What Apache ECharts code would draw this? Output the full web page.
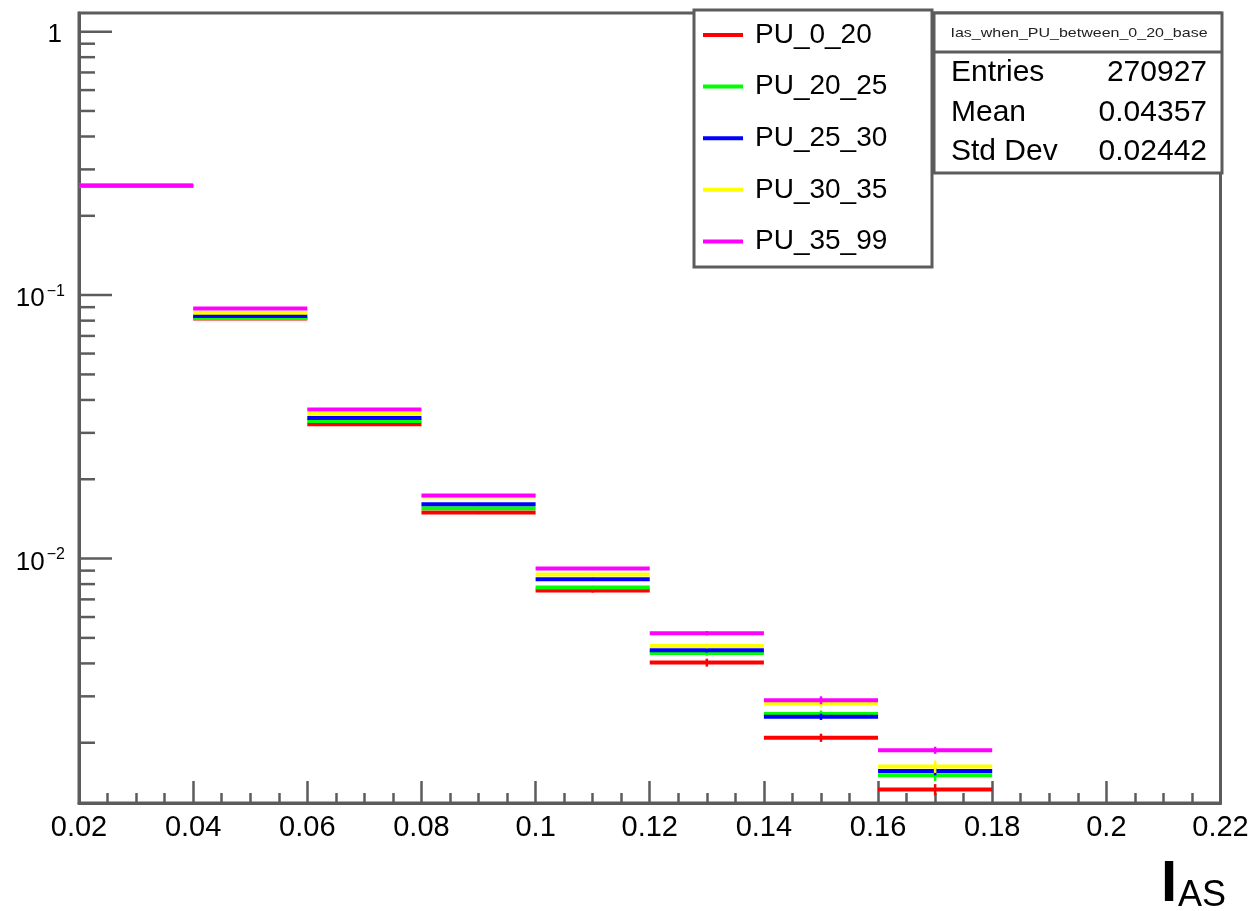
<!DOCTYPE html>
<html>
<head>
<meta charset="utf-8">
<script src="https://cdn.jsdelivr.net/npm/echarts@6/dist/echarts.min.js"></script>
<style>
html,body{margin:0;padding:0;background:#fff;}
#chart{width:1253px;height:911px;}
</style>
</head>
<body>
<div id="chart"></div>
<script>
// ---- data ----
const binLow = [0.02, 0.04, 0.06, 0.08, 0.10, 0.12, 0.14, 0.16];
const binWidth = 0.02;
const seriesNames = ['PU_0_20', 'PU_20_25', 'PU_25_30', 'PU_30_35', 'PU_35_99'];
const seriesColors = ['#ff0000', '#00ff00', '#0000ff', '#ffff00', '#ff00ff'];
const pu0to20  = [0.2603, 0.0815, 0.03233, 0.01495, 0.00756, 0.00403, 0.00209, 0.001328];
const pu20to25 = [0.2603, 0.0818, 0.0333,  0.01552, 0.00776, 0.00438, 0.00257, 0.001505];
const pu25to30 = [0.2603, 0.0833, 0.03417, 0.01607, 0.00834, 0.00449, 0.00251, 0.001563];
const pu30to35 = [0.2603, 0.0858, 0.0354,  0.0172,  0.00870, 0.00466, 0.00282, 0.001624];
const pu35to99 = [0.2603, 0.0889, 0.03677, 0.01734, 0.00916, 0.00521, 0.00290, 0.001873];
const err0to20  = [0.0007, 0.0004, 0.0003, 0.00020, 0.00013, 0.00014, 0.000075, 0.000065];
const err20to25 = [0.0007, 0.0004, 0.0003, 0.00020, 0.00012, 0.00010, 0.000080, 0.000075];
const err25to30 = [0.0007, 0.0004, 0.0003, 0.00020, 0.00012, 0.00009, 0.000070, 0.000060];
const err30to35 = [0.0007, 0.0004, 0.0003, 0.00020, 0.00012, 0.00010, 0.000080, 0.000088];
const err35to99 = [0.0007, 0.0004, 0.0003, 0.00020, 0.00012, 0.00010, 0.000100, 0.000058];
const xTickMin = 0.02, xTickMax = 0.22, xTickStep = 0.02;
const yMin = 0.001181, yMax = 1.177;
const statsTitle = 'Ias_when_PU_between_0_20_base';
const statsLabels = ['Entries', 'Mean', 'Std Dev'];
const statsValues = ['270927', '0.04357', '0.02442'];

const allValues = [pu0to20, pu20to25, pu25to30, pu30to35, pu35to99];
const allErrors = [err0to20, err20to25, err25to30, err30to35, err35to99];

const FONT = '"Liberation Sans", Arial, Helvetica, sans-serif';
const FRAME = '#5c5c5c';

// y-axis tick values (decades + minor 2..9)
const yMajorTicks = [];
const yMinorTicks = [];
for (let e = -3; e <= 0; e++) {
  const base = Math.pow(10, e);
  if (base >= yMin && base <= yMax) yMajorTicks.push(base);
  for (let m = 2; m <= 9; m++) {
    const v = m * base;
    if (v >= yMin && v <= yMax) yMinorTicks.push(v);
  }
}

function renderHist(params, api) {
  const xlo = api.value(0), xhi = api.value(1), v = api.value(2), e = api.value(3);
  const a = api.coord([xlo, v]);
  const b = api.coord([xhi, v]);
  const xc = (xlo + xhi) / 2;
  const c1 = api.coord([xc, v - e]);
  const c2 = api.coord([xc, v + e]);
  const color = api.visual('color');
  return {
    type: 'group',
    children: [
      { type: 'line', shape: { x1: a[0], y1: a[1], x2: b[0], y2: b[1] }, style: { stroke: color, lineWidth: 4 } },
      { type: 'line', shape: { x1: c1[0], y1: c1[1], x2: c2[0], y2: c2[1] }, style: { stroke: color, lineWidth: 2.5 } }
    ]
  };
}

function renderYTick(len) {
  return function (params, api) {
    const p = api.coord([xTickMin, api.value(0)]);
    return { type: 'line', shape: { x1: p[0], y1: p[1], x2: p[0] + len, y2: p[1] }, style: { stroke: FRAME, lineWidth: 2.5 } };
  };
}

const series = seriesNames.map(function (name, i) {
  return {
    name: name,
    type: 'custom',
    renderItem: renderHist,
    color: seriesColors[i],
    itemStyle: { color: seriesColors[i] },
    encode: { x: [0, 1], y: [2] },
    data: binLow.map(function (lo, k) { return [lo, lo + binWidth, allValues[i][k], allErrors[i][k]]; }),
    z: 2 + i
  };
});
series.push({
  name: 'ymajor', type: 'custom', renderItem: renderYTick(33), silent: true,
  encode: { y: [0] }, data: yMajorTicks.map(function (v) { return [v]; }), z: 10
});
series.push({
  name: 'yminor', type: 'custom', renderItem: renderYTick(16), silent: true,
  encode: { y: [0] }, data: yMinorTicks.map(function (v) { return [v]; }), z: 10
});

const legendBox = { x: 694, y: 10, w: 238, h: 257 };
const statsBox = { x: 934, y: 13, w: 288, h: 160 };

const graphics = [
  { type: 'rect', z: 50, shape: { x: legendBox.x, y: legendBox.y, width: legendBox.w, height: legendBox.h },
    style: { fill: '#fff', stroke: FRAME, lineWidth: 3 } },
  { type: 'rect', z: 50, shape: { x: statsBox.x, y: statsBox.y, width: statsBox.w, height: statsBox.h },
    style: { fill: '#fff', stroke: FRAME, lineWidth: 3 } },
  { type: 'line', z: 51, shape: { x1: statsBox.x, y1: 52, x2: statsBox.x + statsBox.w, y2: 52 },
    style: { stroke: FRAME, lineWidth: 3 } },
  { type: 'text', z: 52, x: 1079, y: 33, scaleY: 0.82,
    style: { text: statsTitle, fill: '#222', font: '16px ' + FONT, align: 'center', verticalAlign: 'middle' } },
  { type: 'text', z: 52, x: 1161, y: 885,
    style: { text: 'I', fill: '#000', font: 'bold 58px ' + FONT, align: 'left', verticalAlign: 'middle' } },
  { type: 'text', z: 52, x: 1178, y: 896,
    style: { text: 'AS', fill: '#000', font: '36px ' + FONT, align: 'left', verticalAlign: 'middle' } }
];
const statsRowsY = [73, 113, 152];
statsLabels.forEach(function (lab, i) {
  graphics.push({ type: 'text', z: 52, x: 951, y: statsRowsY[i],
    style: { text: lab, fill: '#000', font: '30px ' + FONT, align: 'left', verticalAlign: 'middle' } });
  graphics.push({ type: 'text', z: 52, x: 1207, y: statsRowsY[i],
    style: { text: statsValues[i], fill: '#000', font: '30px ' + FONT, align: 'right', verticalAlign: 'middle' } });
});

const chart = echarts.init(document.getElementById('chart'), null, { renderer: 'canvas' });
chart.setOption({
  animation: false,
  backgroundColor: '#fff',
  grid: { left: 79, right: 32.5, top: 13, bottom: 108, show: true, borderColor: FRAME, borderWidth: 3, backgroundColor: 'transparent' },
  legend: {
    data: seriesNames,
    orient: 'vertical',
    left: 703, top: 21,
    padding: 0,
    itemWidth: 40, itemHeight: 4, itemGap: 23.6,
    icon: 'rect',
    z: 60,
    textStyle: { fontSize: 28, fontFamily: FONT, color: '#000', padding: [0, 0, 0, 7] },
    selectedMode: false
  },
  xAxis: {
    type: 'value', min: xTickMin, max: xTickMax, interval: xTickStep,
    axisLine: { show: true, lineStyle: { color: FRAME, width: 3 } },
    axisTick: { show: true, inside: true, length: 22, lineStyle: { color: FRAME, width: 2.5 } },
    minorTick: { show: true, splitNumber: 4, length: 10, lineStyle: { color: FRAME, width: 2.5 } },
    splitLine: { show: false },
    axisLabel: { show: true, fontSize: 29, fontFamily: FONT, color: '#000', margin: 10, showMinLabel: true, showMaxLabel: true }
  },
  yAxis: {
    type: 'log', logBase: 10, min: yMin, max: yMax,
    axisLine: { show: true, lineStyle: { color: FRAME, width: 3 } },
    axisTick: { show: false },
    splitLine: { show: false },
    axisLabel: {
      show: true, fontSize: 26, fontFamily: FONT, color: '#000', margin: 14,
      showMinLabel: false, showMaxLabel: false,
      formatter: function (v) {
        const l = Math.log10(v);
        const e = Math.round(l);
        if (Math.abs(l - e) > 1e-6) return '';
        if (e === 0) return '{one|1}';
        return '{b|10}{s|\u2212' + Math.abs(e) + '}';
      },
      rich: {
        one: { fontSize: 26, fontFamily: FONT, color: '#000', padding: [7, 3, 0, 0] },
        b: { fontSize: 26, fontFamily: FONT, color: '#000', padding: [8, 0, 0, 0] },
        s: { fontSize: 16, fontFamily: FONT, color: '#000', padding: [0, 0, 8, 2] }
      }
    }
  },
  graphic: graphics,
  series: series
});
</script>
</body>
</html>
